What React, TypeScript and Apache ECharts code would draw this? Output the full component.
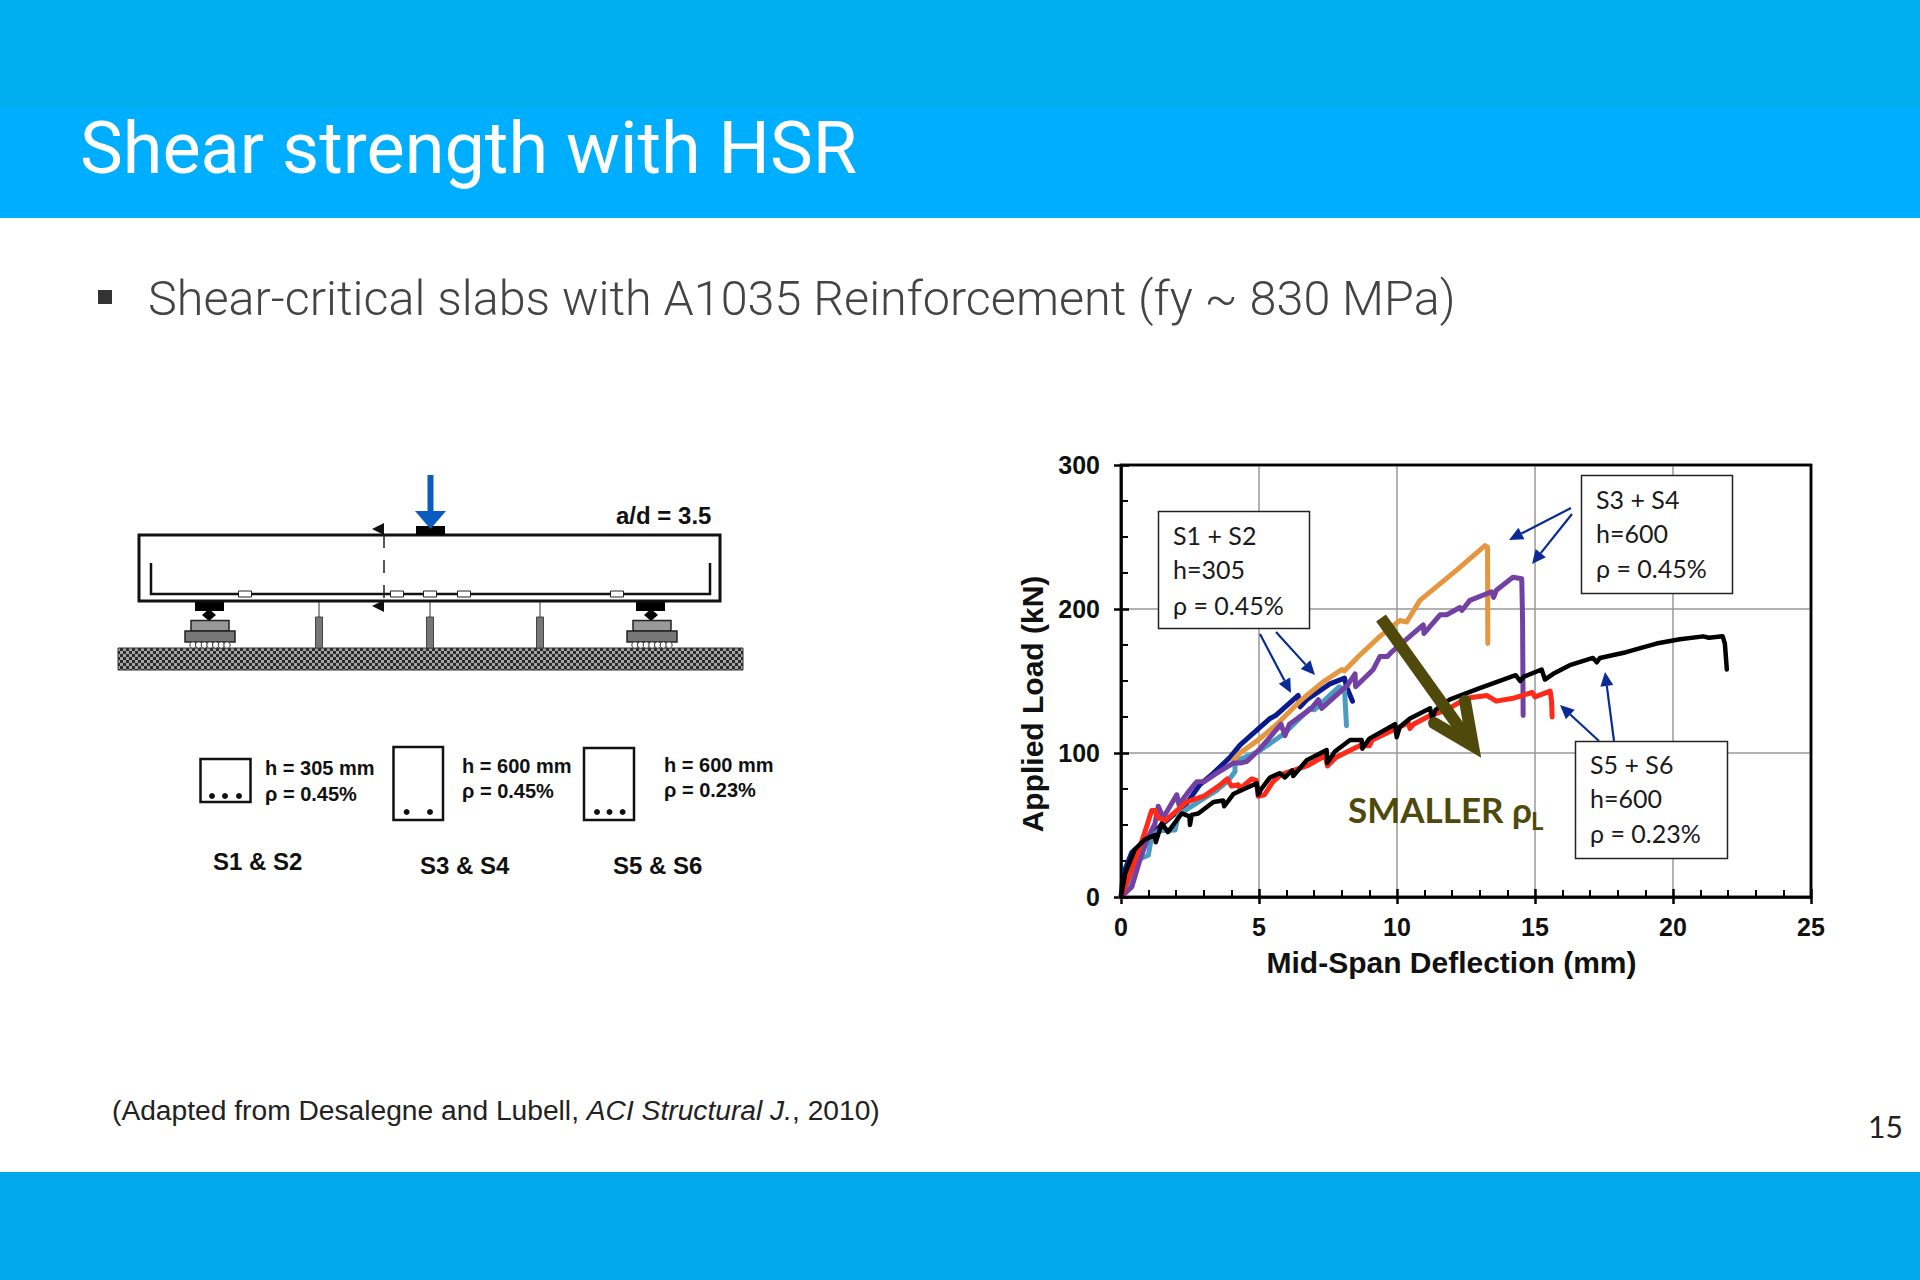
import React, { useEffect, useRef } from "react";
import * as echarts from "echarts";

const xTickValues = [0, 5, 10, 15, 20, 25];
const yTickValues = [0, 100, 200, 300];

const titleText = "Shear strength with HSR";
const bulletText = "Shear-critical slabs with A1035 Reinforcement (fy ~ 830 MPa)";
const pageNumber = "15";

const s5Black = [[0,0],[0.15,16],[0.5,33],[0.87,40],[1.23,43],[1.26,38],[1.47,51],[1.6,48],[1.7,45],[2.2,58],[2.48,56],[2.5,50],[2.56,57],[2.8,58],[3.35,66],[3.7,67],[3.74,63],[4.07,71.5],[4.92,79],[4.97,71],[5.1,75.5],[5.4,83],[5.76,86],[5.94,83],[6.2,88],[6.24,84],[6.73,95],[7.45,102],[7.47,93],[7.75,101],[8.3,109],[8.72,109],[8.74,103],[9.0,110],[9.75,118],[9.93,120],[9.99,111],[10.1,118],[10.47,124],[11.2,131],[11.27,124],[11.4,130],[11.9,137],[13.0,145],[14.3,154],[14.46,150],[14.6,153],[15.24,158],[15.36,151],[15.66,155],[16.26,161],[17.1,166],[17.24,163],[17.35,166],[18.3,170],[19.4,176],[20.25,179],[21.1,181],[21.3,180],[21.8,181],[21.88,176],[21.95,158]];
const s6Red = [[0,0],[0.33,16],[0.69,35],[0.93,49],[1.11,60],[1.23,60],[1.35,55],[1.6,53],[1.96,59],[2.38,66],[3,70],[3.6,78],[3.85,82],[4,77],[4.25,78],[4.31,75],[4.73,82],[4.9,81],[4.97,70],[5.2,71],[5.5,80],[5.8,85],[6.73,91],[7.4,98],[7.48,91],[7.8,97],[8.42,103],[8.65,105],[9,105],[9.1,109],[9.75,115],[9.99,117],[10.41,121],[10.47,117],[10.6,120],[11.2,126],[11.8,130],[12.5,138],[13.25,140],[13.6,136],[14.2,138],[14.9,142],[15.0,139],[15.55,143],[15.6,136],[15.62,125]];
const s3Orange = [[4.07,95],[4.31,100],[5.04,110],[5.76,122],[6.48,136],[7.3,149],[8.0,158],[8.09,157],[8.6,167],[9.38,181],[10.1,192],[10.35,191],[10.83,206],[12.16,227],[13.19,244],[13.28,243],[13.29,176]];
const s4Purple = [[0,0],[0.39,7],[0.69,26],[0.99,42],[1.23,51],[1.35,63],[1.53,55],[2.02,71],[2.1,64],[2.44,73],[2.74,80],[3,80],[3.47,86],[4.07,93],[4.31,93],[4.55,94],[5.04,103],[5.8,120],[5.94,112],[6.1,120],[6.9,131],[7.15,137],[7.27,131],[8.2,147],[8.48,155],[8.5,146],[9.14,158],[9.38,167],[9.65,167],[9.8,170],[10.95,189],[10.98,183],[11.56,196],[11.8,196],[12.28,201],[12.35,199],[12.64,206],[13.43,212],[13.5,208],[13.6,213],[14.2,222],[14.52,221],[14.55,192],[14.57,126]];
const s1Navy = [[0,0],[0.08,16],[0.39,31],[0.75,37],[1.17,45],[2.38,65],[2.86,78],[3.35,86],[3.95,97],[4.31,105.5],[5.4,124],[5.6,126],[6.42,140],[6.49,132],[6.73,137],[7.57,148],[8.1,152],[8.17,146],[8.39,136]];
const s2Teal = [[0,0],[0.33,12],[0.63,26],[0.99,29],[1.11,42],[1.35,46],[1.96,46.5],[2.08,57],[2.44,61.5],[3,68.5],[3.47,74],[3.89,81],[4.13,87],[4.13,94],[4.98,101],[5.88,113],[6.85,131],[7.0,130],[7.9,146],[8.1,144],[8.17,119]];

const seriesList = [
  { name: "S1", color: "#0b1a8c", data: s1Navy },
  { name: "S2", color: "#4a9cc0", data: s2Teal },
  { name: "S3", color: "#e5963f", data: s3Orange },
  { name: "S4", color: "#7340a4", data: s4Purple },
  { name: "S6", color: "#ff2a1a", data: s6Red },
  { name: "S5", color: "#000000", data: s5Black },
];

const GRID = { left: 1121, top: 465, width: 690, height: 432 };
const ARIAL = '"Liberation Sans", Arial, sans-serif';
const ROBOTO = 'Roboto, "Noto Sans", sans-serif';
const LATO = 'Lato, "Noto Sans", sans-serif';
const ZZ = 20;

function txt(x: number, y: number, text: string, font: string, size: number, extra: any = {}) {
  const { fill = "#111", weight = "normal", align = "left", style = "normal", rotation, rich } = extra;
  return {
    type: "text", x, y, z: ZZ, rotation,
    style: { text, fill, fontFamily: font, fontSize: size, fontWeight: weight, fontStyle: style, textAlign: align, textVerticalAlign: "middle", rich },
  };
}
function rect(x: number, y: number, w: number, h: number, fill: string, stroke?: string, lw = 1) {
  return { type: "rect", z: ZZ, shape: { x, y, width: w, height: h }, style: { fill, stroke, lineWidth: lw } };
}
function ln(x1: number, y1: number, x2: number, y2: number, stroke: string, lw: number, extra: any = {}) {
  return { type: "line", z: ZZ, shape: { x1, y1, x2, y2 }, style: { stroke, lineWidth: lw, ...extra } };
}
function poly(points: number[][], fill: string, stroke?: string, lw = 1) {
  return { type: "polygon", z: ZZ, shape: { points }, style: { fill, stroke, lineWidth: lw } };
}
function circ(cx: number, cy: number, r: number, fill: string, stroke?: string, lw = 1) {
  return { type: "circle", z: ZZ, shape: { cx, cy, r }, style: { fill, stroke, lineWidth: lw } };
}
function arrow(x1: number, y1: number, x2: number, y2: number) {
  const c = "#0a2a96";
  const a = Math.atan2(y2 - y1, x2 - x1);
  const L = 14, W = 6.5;
  const bx = x2 - L * Math.cos(a), by = y2 - L * Math.sin(a);
  const nx = -Math.sin(a), ny = Math.cos(a);
  return [
    ln(x1, y1, bx, by, c, 2.2),
    poly([[x2, y2], [bx + nx * W, by + ny * W], [bx - nx * W, by - ny * W]], c),
  ];
}
function noteBox(x: number, y: number, w: number, h: number, lines: string[], tx: number, ys: number[]) {
  return [
    rect(x, y, w, h, "#fff", "#222", 1.5),
    ...lines.map((l, i) => txt(tx, ys[i], l, LATO, 25, { fill: "#1a1a1a" })),
  ];
}
function support(plateX: number, plateW: number, cx: number, ux: number, uw: number, lx: number, lw: number, rx0: number, rx1: number) {
  const rollers = [];
  for (let i = 0; i < 7; i++) rollers.push(circ(rx0 + ((rx1 - rx0) * i) / 6, 645, 3.2, "#fff", "#333", 1));
  return [
    rect(plateX, 601, plateW, 10, "#000"),
    ln(cx, 609, cx, 621, "#000", 2),
    poly([[cx, 609], [cx + 7, 615], [cx, 621], [cx - 7, 615]], "#000"),
    rect(ux, 620.5, uw, 10.5, "#999", "#222", 1.5),
    rect(lx, 631, lw, 11, "#777", "#222", 1.5),
    ...rollers,
  ];
}

function makePattern() {
  const c = document.createElement("canvas");
  c.width = 6; c.height = 6;
  const g = c.getContext("2d")!;
  g.fillStyle = "#a5a5a5"; g.fillRect(0, 0, 6, 6);
  g.fillStyle = "#2a2a2a";
  g.fillRect(0, 0, 3, 3); g.fillRect(3, 3, 3, 3);
  return c;
}

function diagram(): any[] {
  const out: any[] = [];
  out.push({ type: "rect", z: ZZ, shape: { x: 118, y: 648, width: 625, height: 22 }, style: { fill: { image: makePattern(), repeat: "repeat" }, stroke: "#333", lineWidth: 1 } });
  [319, 430, 540].forEach((x) => {
    out.push(ln(x, 601, x, 617, "#333", 1));
    out.push(rect(x - 3.5, 617, 7, 31, "#777", "#444", 1));
  });
  out.push(...support(195, 29, 209, 191, 38, 185, 50, 193, 227));
  out.push(...support(636, 29, 651, 633, 38, 627, 50, 635, 669));
  out.push(rect(139, 535, 581, 66, "#fff", "#111", 3));
  out.push({ type: "polyline", z: ZZ, shape: { points: [[151, 563], [151, 594], [710, 594], [710, 563]] }, style: { fill: "none", stroke: "#111", lineWidth: 2.5 } });
  [245, 397, 430, 464, 617].forEach((x) => out.push(rect(x - 6.5, 591, 13, 6, "#fff", "#222", 1)));
  out.push(rect(416, 526, 29, 9, "#000"));
  out.push(ln(430.5, 475, 430.5, 513, "#0a5cc0", 6));
  out.push(poly([[415, 511], [446, 511], [430.5, 529]], "#0a5cc0"));
  out.push(ln(384, 535, 384, 603, "#222", 1.5, { lineDash: [13, 12] }));
  out.push(poly([[372, 529], [384, 523], [384, 535]], "#111"));
  out.push(poly([[372, 606], [384, 600], [384, 612]], "#111"));
  out.push(txt(616, 515, "a/d = 3.5", ARIAL, 24, { weight: "bold", fill: "#111" }));

  const secs = [
    { x: 200.5, y: 759, w: 50, h: 43, dots: [212, 225, 239], dy: 796 },
    { x: 393.5, y: 747, w: 49.5, h: 73, dots: [406.6, 430], dy: 812 },
    { x: 584, y: 748, w: 50, h: 72, dots: [597, 609.5, 622.6], dy: 812 },
  ];
  secs.forEach((s) => {
    out.push(rect(s.x, s.y, s.w, s.h, "#fff", "#111", 2.5));
    s.dots.forEach((d) => out.push(circ(d, s.dy, 3, "#111")));
  });
  const labels: [number, number, string][] = [
    [265, 768, "h = 305 mm"], [265, 794, "ρ = 0.45%"],
    [462, 766, "h = 600 mm"], [462, 791, "ρ = 0.45%"],
    [664, 765, "h = 600 mm"], [664, 790, "ρ = 0.23%"],
  ];
  labels.forEach(([x, y, t]) => out.push(txt(x, y, t, ARIAL, 20, { weight: "bold", fill: "#111" })));
  const names: [number, number, string][] = [[213, 861, "S1 & S2"], [420, 865, "S3 & S4"], [613, 865, "S5 & S6"]];
  names.forEach(([x, y, t]) => out.push(txt(x, y, t, ARIAL, 24, { weight: "bold", fill: "#111" })));
  return out;
}

function annotations(): any[] {
  const olive = "#4f4a0b";
  return [
    { type: "rect", z: ZZ - 1, shape: { x: GRID.left, y: GRID.top, width: GRID.width, height: GRID.height }, style: { fill: "none", stroke: "#000", lineWidth: 2.5 } },
    ...arrow(1260, 634, 1291, 693),
    ...arrow(1276, 632, 1315, 675),
    ...arrow(1571, 508, 1509, 540),
    ...arrow(1572, 514, 1532, 564),
    ...arrow(1599, 741, 1560, 705),
    ...arrow(1614, 741, 1605, 672),
    ...noteBox(1158.5, 511.5, 151, 117, ["S1 + S2", "h=305", "ρ = 0.45%"], 1173, [535, 569, 605]),
    ...noteBox(1581.5, 475.5, 151, 118, ["S3 + S4", "h=600", "ρ = 0.45%"], 1596, [499, 533, 568]),
    ...noteBox(1575.5, 741.5, 152, 117, ["S5 + S6", "h=600", "ρ = 0.23%"], 1590, [764, 798, 833]),
    ln(1381, 618, 1469, 741, olive, 12),
    { type: "polyline", z: ZZ, shape: { points: [[1434, 723], [1473, 746], [1465, 701]] }, style: { fill: "none", stroke: olive, lineWidth: 12, lineJoin: "miter", lineCap: "round" } },
    txt(1348, 809, "SMALLER ρ", LATO, 35, { fill: olive, weight: "bold" }),
    txt(1531, 820, "L", LATO, 24, { fill: olive, weight: "bold" }),
  ];
}

function slide(): any[] {
  return [
    { type: "rect", z: 1, shape: { x: 0, y: 0, width: 1920, height: 108 }, style: { fill: "#00adef" } },
    { type: "rect", z: 1, shape: { x: 0, y: 108, width: 1920, height: 110 }, style: { fill: "#00aeff" } },
    { type: "rect", z: 1, shape: { x: 0, y: 1172, width: 1920, height: 108 }, style: { fill: "#00a8ec" } },
    txt(80, 148, titleText, ROBOTO, 72, { fill: "#fff", weight: 400 }),
    rect(98, 290, 14, 14, "#333"),
    txt(148, 298, bulletText, ROBOTO, 48.5, { fill: "#444", weight: 300 }),
    {
      type: "text", x: 112, y: 1110, z: ZZ,
      style: {
        text: "{n|(Adapted from Desalegne and Lubell, }{i|ACI Structural J.}{n|, 2010)}",
        textVerticalAlign: "middle",
        rich: {
          n: { fontFamily: ARIAL, fontSize: 28.2, fill: "#222" },
          i: { fontFamily: ARIAL, fontSize: 28.2, fontStyle: "italic", fill: "#222" },
        },
      },
    },
    txt(1868, 1126, pageNumber, LATO, 30, { fill: "#222" }),
  ];
}

const hiddenAxisCommon = {
  axisLine: { show: false }, axisLabel: { show: false }, splitLine: { show: false },
  axisTick: { show: true, inside: false, length: 7, lineStyle: { color: "#000", width: 2.5 } },
};

export default function App() {
  const ref = useRef<HTMLDivElement>(null);
  useEffect(() => {
    document.body.style.margin = "0";
    const chart = echarts.init(ref.current!, null, { renderer: "svg" });
    chart.setOption({
      animation: false,
      backgroundColor: "#fff",
      grid: { ...GRID, show: true, borderColor: "#000", borderWidth: 2.5, backgroundColor: "#fff" },
      xAxis: [
        {
          type: "value", min: xTickValues[0], max: xTickValues[xTickValues.length - 1], interval: 5,
          name: "Mid-Span Deflection (mm)", nameLocation: "middle", nameGap: 50,
          nameTextStyle: { fontFamily: ARIAL, fontSize: 30, fontWeight: "bold", color: "#111", padding: [0, 29, 0, 0] },
          axisLine: { lineStyle: { color: "#000", width: 2.5 } },
          axisTick: { inside: true, length: 8, lineStyle: { color: "#000", width: 2.5 } },
          minorTick: { show: true, splitNumber: 5, length: 7, lineStyle: { color: "#000", width: 2 } },
          axisLabel: { fontFamily: ARIAL, fontSize: 25, fontWeight: "bold", color: "#111", margin: 17 },
          splitLine: { show: true, lineStyle: { color: "#999", width: 1.5 } },
        },
        { type: "value", min: 0, max: 25, interval: 5, position: "bottom", ...hiddenAxisCommon },
      ],
      yAxis: [
        {
          type: "value", min: yTickValues[0], max: yTickValues[yTickValues.length - 1], interval: 100,
          name: "Applied Load (kN)", nameLocation: "middle", nameGap: 74, nameRotate: 90,
          nameTextStyle: { fontFamily: ARIAL, fontSize: 30, fontWeight: "bold", color: "#111", padding: [0, 46, 0, 0] },
          axisLine: { lineStyle: { color: "#000", width: 2.5 } },
          axisTick: { inside: true, length: 8, lineStyle: { color: "#000", width: 2.5 } },
          minorTick: { show: true, splitNumber: 4, length: 7, lineStyle: { color: "#000", width: 2 } },
          axisLabel: { fontFamily: ARIAL, fontSize: 25, fontWeight: "bold", color: "#111", margin: 21 },
          splitLine: { show: true, lineStyle: { color: "#999", width: 1.5 } },
        },
        { type: "value", min: 0, max: 300, interval: 100, position: "left", ...hiddenAxisCommon },
      ],
      series: seriesList.map((s, i) => ({
        type: "line", name: s.name, data: s.data, showSymbol: false, symbol: "none", z: 3 + i,
        clip: true,
        lineStyle: { color: s.color, width: s.name === "S5" ? 4.5 : 5, join: "round", cap: "round" },
      })),
      graphic: { elements: [...slide(), ...diagram(), ...annotations()] },
    });
    return () => chart.dispose();
  }, []);
  return <div ref={ref} style={{ width: 1920, height: 1280 }} />;
}
